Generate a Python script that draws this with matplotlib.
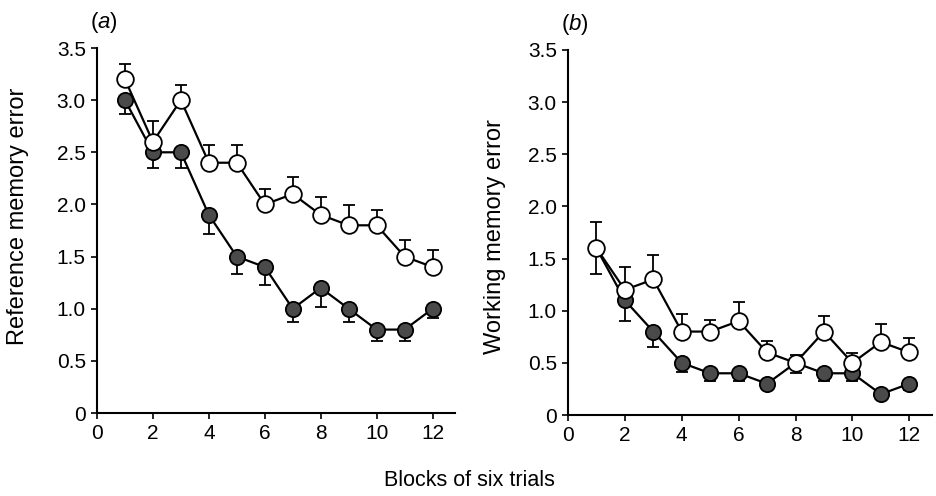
import matplotlib.pyplot as plt
import numpy as np

blocks = np.arange(1, 13)

# panel (a): reference memory error
ref_filled = [3.0, 2.5, 2.5, 1.9, 1.5, 1.4, 1.0, 1.2, 1.0, 0.8, 0.8, 1.0]
ref_filled_err = [0.13, 0.15, 0.15, 0.18, 0.17, 0.17, 0.13, 0.18, 0.13, 0.11, 0.11, 0.09]
ref_open = [3.2, 2.6, 3.0, 2.4, 2.4, 2.0, 2.1, 1.9, 1.8, 1.8, 1.5, 1.4]
ref_open_err = [0.15, 0.2, 0.15, 0.17, 0.17, 0.15, 0.16, 0.17, 0.19, 0.15, 0.16, 0.16]

# panel (b): working memory error
work_filled = [1.6, 1.1, 0.8, 0.5, 0.4, 0.4, 0.3, 0.5, 0.4, 0.4, 0.2, 0.3]
work_filled_err = [0.25, 0.2, 0.15, 0.09, 0.07, 0.07, 0.04, 0.1, 0.07, 0.07, 0.03, 0.06]
work_open = [1.6, 1.2, 1.3, 0.8, 0.8, 0.9, 0.6, 0.5, 0.8, 0.5, 0.7, 0.6]
work_open_err = [0.25, 0.22, 0.23, 0.17, 0.11, 0.18, 0.11, 0.08, 0.15, 0.09, 0.17, 0.14]

yticks = [0, 0.5, 1.0, 1.5, 2.0, 2.5, 3.0, 3.5]
ytick_labels = ['0', '0.5', '1.0', '1.5', '2.0', '2.5', '3.0', '3.5']
xticks = [0, 2, 4, 6, 8, 10, 12]

plt.rcParams['font.family'] = ['Liberation Sans', 'DejaVu Sans']
plt.rcParams['mathtext.fontset'] = 'custom'
plt.rcParams['mathtext.it'] = 'Liberation Sans:italic'
plt.rcParams['mathtext.rm'] = 'Liberation Sans'

fig = plt.figure(figsize=(9.36, 4.96), dpi=100)
ax_a = fig.add_axes([0.1036, 0.1673, 0.3825, 0.7359])
ax_b = fig.add_axes([0.6068, 0.1633, 0.389, 0.7359])


def draw_panel(ax, filled, filled_err, opened, opened_err, ylabel, tag, label_x, label_y):
    zeros = np.zeros(len(blocks))
    ax.errorbar(blocks, filled, yerr=[filled_err, zeros], fmt='none',
                ecolor='black', elinewidth=1.3, capsize=4, capthick=1.3, zorder=2)
    ax.plot(blocks, filled, '-o', color='black', lw=1.6, ms=11,
            mfc='#4a4a4a', mec='black', mew=1.3, zorder=3)
    ax.errorbar(blocks, opened, yerr=[zeros, opened_err], fmt='none',
                ecolor='black', elinewidth=1.3, capsize=4, capthick=1.3, zorder=4)
    ax.plot(blocks, opened, '-o', color='black', lw=1.6, ms=12,
            mfc='white', mec='black', mew=1.3, zorder=5)

    ax.set_xlim(0, 12.8)
    ax.set_ylim(0, 3.5)
    ax.set_xticks(xticks)
    ax.set_yticks(yticks)
    ax.set_yticklabels(ytick_labels)
    ax.tick_params(direction='out', length=4, width=1.2, labelsize=15, pad=4)
    for side in ['top', 'right']:
        ax.spines[side].set_visible(False)
    for side in ['left', 'bottom']:
        ax.spines[side].set_linewidth(1.5)
    ax.set_ylabel(ylabel, fontsize=17)
    ax.yaxis.set_label_coords(label_x, label_y)
    ax.text(-0.02, 1.07, '($\\it{' + tag + '}$)', transform=ax.transAxes,
            fontsize=16, ha='left', va='center')


draw_panel(ax_a, ref_filled, ref_filled_err, ref_open, ref_open_err,
           'Reference memory error', 'a', -0.19, 0.54)
draw_panel(ax_b, work_filled, work_filled_err, work_open, work_open_err,
           'Working memory error', 'b', -0.17, 0.49)

fig.text(0.502, 0.032, 'Blocks of six trials', ha='center', va='center', fontsize=15.5)

fig.savefig('out.png', dpi=100)
